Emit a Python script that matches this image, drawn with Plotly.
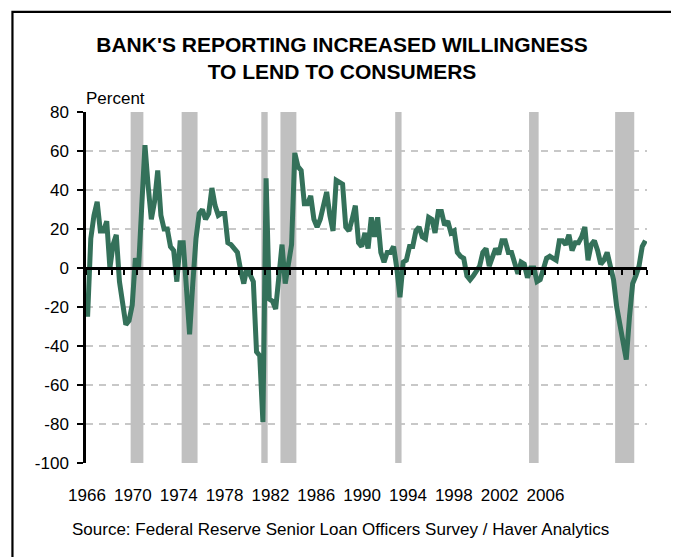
import plotly.graph_objects as go

# Quarterly series starting 1966Q2 (percent of banks reporting increased willingness)
start_year = 1966.25
values = [
    -25, 15, 27, 34, 19, 19, 24, 0, 12, 17,
    -7, -20, -29, -27, -19, 5, 0, 32, 63, 42,
    25, 34, 50, 27, 20, 20, 11, 9, -7, 13,
    13, -10, -34, -8, 15, 28, 30, 25, 28, 41,
    32, 27, 28, 28, 13, 12, 10, 8, -1, -8,
    0, -3, -7, -43, -45, -79, 46, -16, -17, -21,
    -5, 12, -8, 2, 12, 59, 52, 50, 33, 33,
    37, 25, 21, 25, 33, 39, 27, 19, 45, 44,
    43, 21, 19, 25, 32, 13, 11, 18, 10, 26,
    16, 26, 8, 3, 8, 8, 11, 0, -15, 3,
    4, 11, 11, 19, 21, 16, 15, 26, 25, 18,
    29, 29, 22, 24, 18, 19, 8, 6, 5, -4,
    -6, -4, -2, 1, 8, 10, 1, 6, 10, 7,
    14, 14, 8, 8, 3, -3, 3, 2, -5, 0,
    0, -7, -6, 0, 5, 6, 5, 4, 14, 14,
    12, 17, 9, 13, 13, 16, 21, 4, 12, 14,
    9, 2, 4, 8, 1, -6, -20, -30, -40, -47,
    -25, -8, -4, 1, 11, 14,
]
# quarter mid-points
dates = [start_year + (i + 0.5) / 4 for i in range(len(values))]

# NBER recessions (start of first quarter, start of last quarter)
rec_start = [1969.75, 1973.75, 1980.0, 1981.5, 1990.5, 2001.0, 2007.75]
rec_end = [1970.75, 1975.0, 1980.5, 1982.75, 1991.0, 2001.75, 2009.25]

y_ticks = [80, 60, 40, 20, 0, -20, -40, -60, -80, -100]
y_labels = ["80", "60", "40", "20", "0", "-20", "-40", "-60", "-80", "-100"]
x_labels = ["1966", "1970", "1974", "1978", "1982", "1986", "1990", "1994", "1998", "2002", "2006"]

x_range = [1966.25, 2010.25]
y_range = [-100, 80]

# label slots as they appear on the original chart
label_pos = [1966.33 + k * 3.596 for k in range(len(x_labels))]

FONT = "Liberation Sans, Arial, sans-serif"
GREEN = "#34715a"

fig = go.Figure()
fig.add_trace(go.Scatter(
    x=dates, y=values, mode="lines",
    line=dict(color=GREEN, width=5, shape="linear"),
    xaxis="x", yaxis="y", showlegend=False, hoverinfo="skip",
))
# invisible trace to activate label axis
fig.add_trace(go.Scatter(x=[x_range[0]], y=[None], xaxis="x2", yaxis="y",
                         showlegend=False, hoverinfo="skip"))

for s, e in zip(rec_start, rec_end):
    fig.add_shape(type="rect", xref="x", yref="y", x0=s, x1=e,
                  y0=y_range[0], y1=y_range[1],
                  fillcolor="#c0c0c0", line=dict(width=0), layer="between")

# outer frame
fig.add_shape(type="rect", xref="paper", yref="paper",
              x0=-0.1311, x1=1.0507, y0=-0.5, y1=1.285,
              line=dict(color="black", width=2.2), fillcolor="rgba(0,0,0,0)")

fig.update_layout(
    width=679, height=557,
    margin=dict(l=78, r=40, t=104, b=102),
    paper_bgcolor="white", plot_bgcolor="white",
    font=dict(family=FONT, color="black", size=17),
    title=dict(
        text="<b>BANK'S REPORTING INCREASED WILLINGNESS<br>TO LEND TO CONSUMERS</b>",
        x=334 / 679, xref="container", xanchor="center",
        y=1 - 44 / 557, yref="container", yanchor="top",
        font=dict(family=FONT, size=21, color="black"),
    ),
    xaxis=dict(
        range=x_range, anchor="free", position=100 / 180,
        showline=True, linecolor="black", linewidth=2.5,
        ticks="outside", tick0=start_year, dtick=1, ticklen=5, tickwidth=2,
        tickcolor="black", showticklabels=False, showgrid=False, zeroline=False,
    ),
    xaxis2=dict(
        range=x_range, overlaying="x", anchor="y", side="bottom",
        showline=False, ticks="outside", ticklen=17, tickcolor="rgba(0,0,0,0)",
        tickvals=label_pos, ticktext=x_labels, showgrid=False, zeroline=False,
        tickfont=dict(size=17, color="black"),
    ),
    yaxis=dict(
        range=y_range, tickvals=y_ticks, ticktext=y_labels,
        showline=True, linecolor="black", linewidth=2.5,
        ticks="outside", ticklen=6, tickwidth=2, tickcolor="black",
        ticklabelstandoff=5,
        showgrid=True, gridcolor="#c8c8c8", gridwidth=1.5, griddash="7px,6px",
        zeroline=False, tickfont=dict(size=17, color="black"),
    ),
    annotations=[
        dict(text="Percent", xref="paper", yref="paper", x=-0.004, y=1.039,
             xanchor="left", yanchor="middle", showarrow=False,
             font=dict(size=17, color="black")),
        dict(text="Source: Federal Reserve Senior Loan Officers Survey / Haver Analytics",
             xref="paper", yref="paper", x=0.4545, y=-0.19,
             xanchor="center", yanchor="middle", showarrow=False,
             font=dict(size=17, color="black")),
    ],
)

fig.write_html("out.html")
